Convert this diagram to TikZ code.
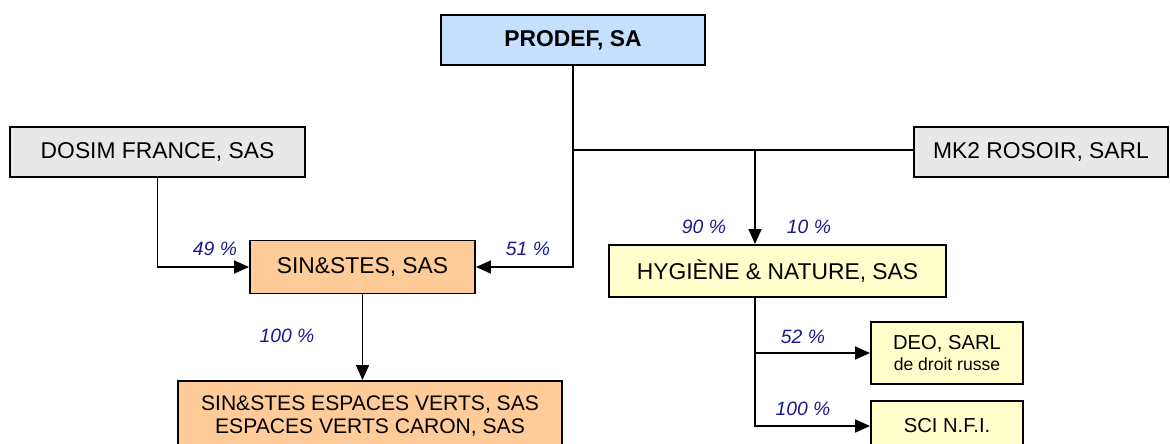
\documentclass[tikz,border=0pt]{standalone}
\usepackage{fontspec}
\setmainfont{Liberation Sans}
\usetikzlibrary{arrows.meta}
\definecolor{boxblue}{RGB}{197,224,255}
\definecolor{boxgrey}{RGB}{232,232,232}
\definecolor{boxorange}{RGB}{255,204,153}
\definecolor{boxyellow}{RGB}{255,255,204}
\definecolor{pctblue}{RGB}{26,26,140}
\begin{document}
\begin{tikzpicture}[x=0.02cm, y=-0.02cm,
    box/.style={draw, line width=1.1pt, inner sep=0pt, align=center,
      font=\fontsize{13}{15}\selectfont},
    link/.style={line width=0.9pt},
    arrow/.style={link, -{Triangle[length=0.3cm,width=0.26cm]}},
    pct/.style={text=pctblue, font=\fontsize{11}{13}\selectfont\itshape}]
      \useasboundingbox (0,0) rectangle (1170,443);
      \clip (0,0) rectangle (1170,443);
      % boxes
      \node[box, fill=boxblue, minimum width=5.28cm, minimum height=1cm, font=\fontsize{13}{15}\selectfont\bfseries] (prodef) at (573,40) {PRODEF, SA};
      \node[box, fill=boxgrey, minimum width=5.9cm, minimum height=1cm] (dosim) at (157.5,152) {DOSIM FRANCE, SAS};
      \node[box, fill=boxgrey, minimum width=5.08cm, minimum height=1cm] (mk2) at (1041,152) {MK2 ROSOIR, SARL};
      \node[box, fill=boxorange, minimum width=4.5cm, minimum height=1.06cm] (sin) at (362.5,267) {SIN\&STES, SAS};
      \node[box, fill=boxyellow, minimum width=6.74cm, minimum height=1.04cm] (hyg) at (777.5,271) {HYGIÈNE \& NATURE, SAS};
      \node[box, fill=boxorange, minimum width=7.68cm, minimum height=1.4cm, font=\fontsize{12}{13}\selectfont] (verts) at (370,416) {SIN\&STES ESPACES VERTS, SAS\\ESPACES VERTS CARON, SAS};
      \node[box, fill=boxyellow, minimum width=3.04cm, minimum height=1.24cm, font=\fontsize{11.5}{11.5}\selectfont] (deo) at (947,353) {DEO, SARL\\{\fontsize{10}{11}\selectfont de droit russe}};
      \node[box, fill=boxyellow, minimum width=3.04cm, minimum height=1cm, font=\fontsize{11.5}{13}\selectfont] (sci) at (947,426) {SCI N.F.I.};
      % connectors
      \coordinate (fork) at (573,150);
      \coordinate (split) at (755,150);
      \draw[arrow] (prodef.south) |- (sin.east);
      \draw[link] (fork) -- (mk2.west |- fork);
      \draw[arrow] (split) -- (split |- hyg.north);
      \draw[arrow] (dosim.south) |- (sin.west);
      \draw[arrow] (sin.south) -- (sin.south |- verts.north);
      \draw[arrow] (hyg.south -| split) |- (deo.west);
      \draw[arrow] (hyg.south -| split) |- (sci.west);
      % shares
      \node[pct] (p49) at (215,249) {49 \%};
      \node[pct] (p51) at (528,249) {51 \%};
      \node[pct] (p90) at (704,227) {90 \%};
      \node[pct] (p10) at (809,227) {10 \%};
      \node[pct] (p100a) at (287,336) {100 \%};
      \node[pct] (p52) at (803,337) {52 \%};
      \node[pct] (p100b) at (803,409) {100 \%};
\end{tikzpicture}
\end{document}
